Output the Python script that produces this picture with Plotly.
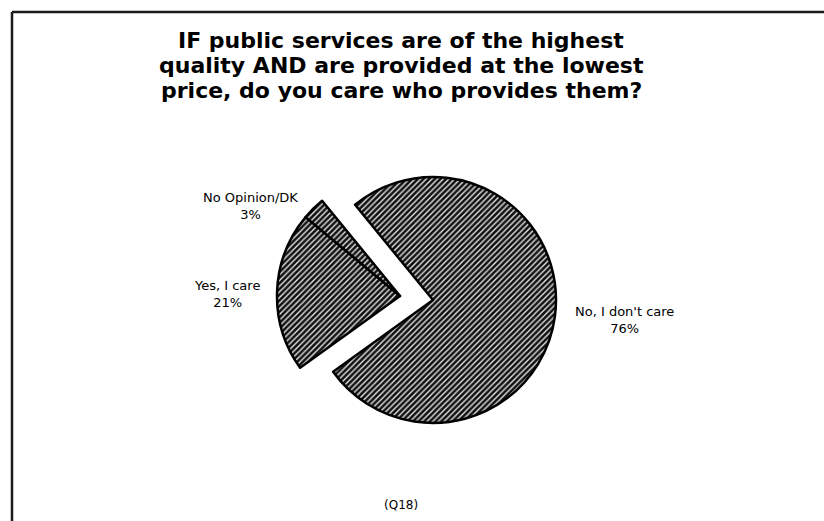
import plotly.graph_objects as go

# Survey responses
labels = ["No, I don't care", "Yes, I care", "No Opinion/DK"]
values = [76, 21, 3]

title_lines = [
    "IF public services are of the highest",
    "quality AND are provided at the lowest",
    "price, do you care who provides them?",
]
footnote = "(Q18)"

W, H = 824, 521
CLEAR = "rgba(0,0,0,0)"
FILL = "#111111"
STRIPE = "#e4e4e4"


def px(x):
    return x / W


def py(y):
    return 1 - y / H


# Pie box: radius 123 px, centred at (433, 300)
cx, cy, r = 433, 300, 123
# the "care" + "no opinion" group is pulled out together
dx, dy = -33, -4

dom_main = dict(x=[px(cx - r), px(cx + r)], y=[py(cy + r), py(cy - r)])
dom_pulled = dict(x=[px(cx - r + dx), px(cx + r + dx)],
                  y=[py(cy + r + dy), py(cy - r + dy)])

common = dict(
    labels=labels,
    values=values,
    sort=False,
    direction="clockwise",
    rotation=-39.3,
    textinfo="none",
    hoverinfo="label+percent",
    showlegend=False,
)

main = go.Pie(
    domain=dom_main,
    marker=dict(
        colors=[FILL, CLEAR, CLEAR],
        line=dict(color=["#000000", CLEAR, CLEAR], width=2.5),
        pattern=dict(shape=["/", "", ""], fgcolor=STRIPE, bgcolor=FILL,
                     fillmode="replace", size=4, solidity=0.35),
    ),
    **common,
)

pulled = go.Pie(
    domain=dom_pulled,
    marker=dict(
        colors=[CLEAR, FILL, FILL],
        line=dict(color=[CLEAR, "#000000", "#000000"], width=2.5),
        pattern=dict(shape=["", "/", "/"], fgcolor=STRIPE, bgcolor=FILL,
                     fillmode="replace", size=4, solidity=0.35),
    ),
    **common,
)

fig = go.Figure([main, pulled])

annotations = []
title_y = [40, 65, 90]
for line, y in zip(title_lines, title_y):
    annotations.append(dict(
        text=line, x=px(401), y=py(y), xref="paper", yref="paper",
        xanchor="center", yanchor="middle", showarrow=False,
        font=dict(family="DejaVu Sans", size=22, color="#000000", weight="bold"),
    ))

# slice labels placed beside the pie
label_pos = {
    "No, I don't care": (624, 320),
    "Yes, I care": (227, 294),
    "No Opinion/DK": (251, 206),
}
for lab, val in zip(labels, values):
    x, y = label_pos[lab]
    annotations.append(dict(
        text=f"{lab}<br>{val}%", x=px(x), y=py(y), xref="paper", yref="paper",
        xanchor="center", yanchor="middle", showarrow=False, align="center",
        font=dict(family="DejaVu Sans", size=13, color="#000000"),
    ))

annotations.append(dict(
    text=footnote, x=px(401), y=py(505), xref="paper", yref="paper",
    xanchor="center", yanchor="middle", showarrow=False,
    font=dict(family="DejaVu Sans", size=12, color="#000000"),
))

# page frame (top and left rules)
shapes = [
    dict(type="line", xref="paper", yref="paper",
         x0=px(12), y0=py(12), x1=1, y1=py(12),
         line=dict(color="#1a1a1a", width=2.5)),
    dict(type="line", xref="paper", yref="paper",
         x0=px(12), y0=py(12), x1=px(12), y1=0,
         line=dict(color="#1a1a1a", width=2.5)),
]

fig.update_layout(
    width=W, height=H,
    margin=dict(l=0, r=0, t=0, b=0),
    paper_bgcolor="#ffffff",
    plot_bgcolor="#ffffff",
    annotations=annotations,
    shapes=shapes,
)

fig.write_html("out.html")
